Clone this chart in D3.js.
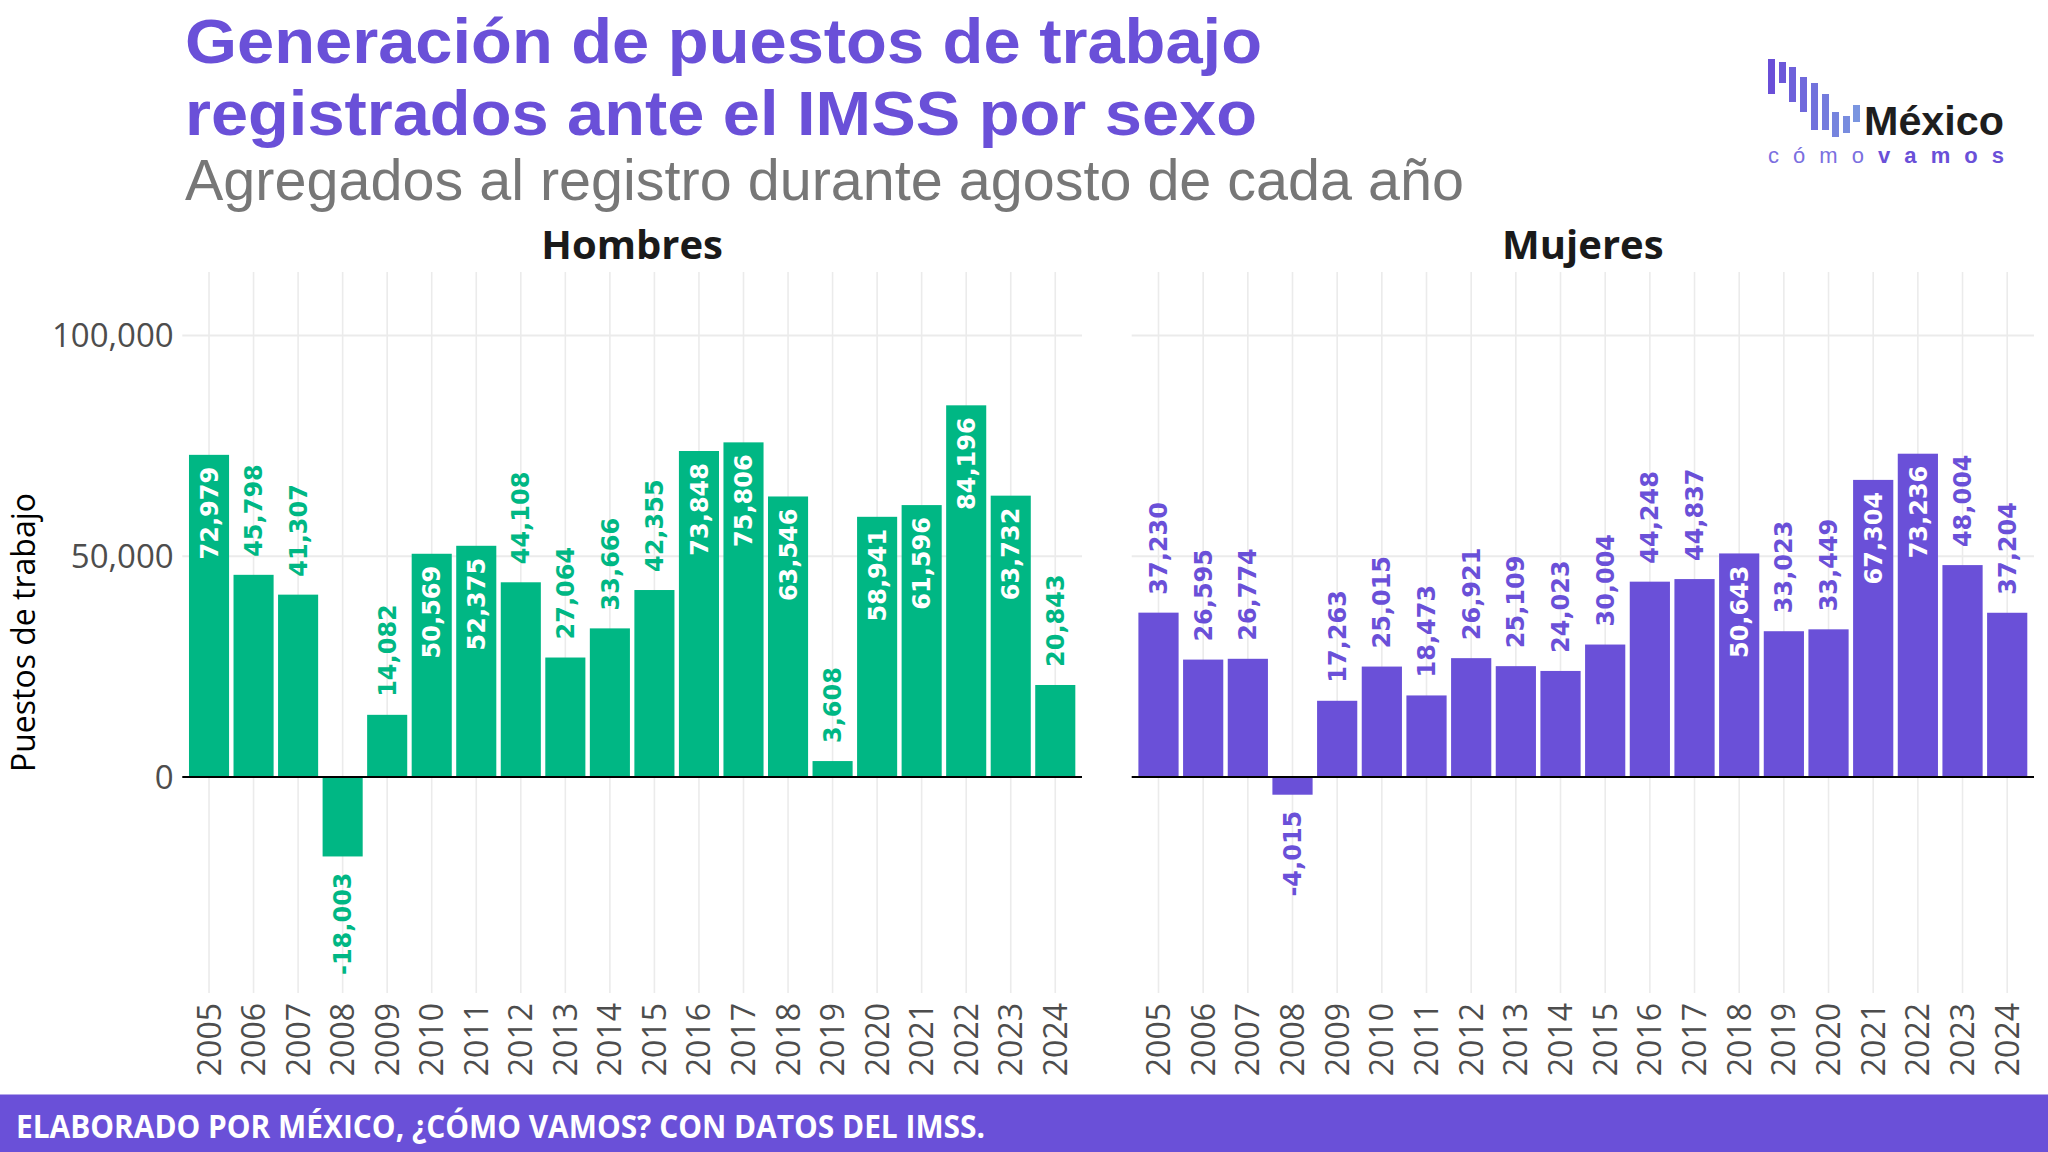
<!DOCTYPE html>
<html>
<head>
<meta charset="utf-8">
<script src="https://cdn.jsdelivr.net/npm/d3@7"></script>
<style>
  html, body { margin: 0; padding: 0; background: #ffffff; }
  svg { display: block; }
</style>
</head>
<body>
<svg id="chart" width="2048" height="1152"></svg>
<script>
// ---------- DATA ----------
const years = ["2005","2006","2007","2008","2009","2010","2011","2012","2013","2014",
               "2015","2016","2017","2018","2019","2020","2021","2022","2023","2024"];
const hombres = [72979, 45798, 41307, -18003, 14082, 50569, 52375, 44108, 27064, 33666,
                 42355, 73848, 75806, 63546, 3608, 58941, 61596, 84196, 63732, 20843];
const mujeres = [37230, 26595, 26774, -4015, 17263, 25015, 18473, 26921, 25109, 24023,
                 30004, 44248, 44837, 50643, 33023, 33449, 67304, 73236, 48004, 37204];
const yTicks = [0, 50000, 100000];
const panelNames = ["Hombres", "Mujeres"];

// ---------- STYLE ----------
const GREEN = "#00B784";
const PURPLE = "#6A50D8";
const GRID = "#EBEBEB";
const TICK = "#4D4D4D";
const TITLE_FONT = "'Liberation Sans', Arial, sans-serif";

const svg = d3.select("#chart");
const fmt = v => d3.format(",")(v).replace("\u2212", "-");

const yTop = 272, yBottom = 993;
const y = d3.scaleLinear().domain([-48935, 114400]).range([yBottom, yTop]);

const panels = [
  { name: panelNames[0], values: hombres, color: GREEN, x0: 182.3, x1: 1082 },
  { name: panelNames[1], values: mujeres, color: PURPLE, x0: 1131.7, x1: 2034 }
];

// ---------- TITLES ----------
svg.append("text").attr("x", 185).attr("y", 63)
  .attr("font-family", TITLE_FONT).attr("font-weight", 700)
  .attr("font-size", 63.5).attr("fill", PURPLE)
  .attr("textLength", 1077).attr("lengthAdjust", "spacingAndGlyphs")
  .text("Generación de puestos de trabajo");
svg.append("text").attr("x", 185).attr("y", 134.5)
  .attr("font-family", TITLE_FONT).attr("font-weight", 700)
  .attr("font-size", 63.5).attr("fill", PURPLE)
  .attr("textLength", 1072).attr("lengthAdjust", "spacingAndGlyphs")
  .text("registrados ante el IMSS por sexo");
svg.append("text").attr("x", 185).attr("y", 200)
  .attr("font-family", TITLE_FONT).attr("font-weight", 400)
  .attr("font-size", 56.5).attr("fill", "#777777")
  .attr("textLength", 1279).attr("lengthAdjust", "spacingAndGlyphs")
  .text("Agregados al registro durante agosto de cada año");

// ---------- LOGO ----------
const logoBars = [
  [1768, 59, 94], [1779, 62, 83], [1789, 67, 102], [1800, 77, 112], [1811, 83, 130],
  [1822, 94, 130], [1832, 112, 137], [1843, 116, 133], [1853, 105, 122]
];
const logoColor = d3.interpolateRgb("#6A4FD8", "#7A95E0");
const logo = svg.append("g");
logo.selectAll("rect").data(logoBars).join("rect")
  .attr("x", d => d[0]).attr("y", d => d[1])
  .attr("width", 7).attr("height", d => d[2] - d[1])
  .attr("fill", (d, i) => logoColor(i / (logoBars.length - 1)));
logo.append("text").attr("x", 1864).attr("y", 134.5)
  .attr("font-family", TITLE_FONT).attr("font-weight", 700)
  .attr("font-size", 40).attr("fill", "#1E1E1E")
  .attr("textLength", 140).attr("lengthAdjust", "spacingAndGlyphs")
  .text("México");
const lt = logo.append("text").attr("x", 1768).attr("y", 163)
  .attr("font-family", TITLE_FONT).attr("font-size", 22)
  .attr("textLength", 236).attr("lengthAdjust", "spacing");
lt.append("tspan").attr("fill", "#7B6FE0").attr("font-weight", 400).text("cómo");
lt.append("tspan").attr("fill", PURPLE).attr("font-weight", 700).text("vamos");

// ---------- Y AXIS TITLE ----------
svg.append("text")
  .attr("transform", `translate(35, ${(yTop + yBottom) / 2}) rotate(-90)`)
  .attr("text-anchor", "middle")
  .attr("font-family", "'Open Sans', sans-serif").attr("font-size", 32)
  .attr("fill", "#000000")
  .text("Puestos de trabajo");

// ---------- Y TICK LABELS ----------
svg.append("g").selectAll("text").data(yTicks).join("text")
  .attr("x", 173.7).attr("y", d => y(d)).attr("dy", "0.36em")
  .attr("text-anchor", "end")
  .attr("font-family", "'Open Sans', sans-serif").attr("font-size", 33)
  .attr("fill", TICK)
  .text(d => fmt(d));

// ---------- PANELS ----------
panels.forEach(p => {
  const x = d3.scaleBand().domain(years).range([p.x0, p.x1])
    .paddingInner(0.1).paddingOuter(0.15);
  const g = svg.append("g");

  // grid
  g.selectAll("line.v").data(years).join("line").attr("class", "v")
    .attr("x1", d => x(d) + x.bandwidth() / 2).attr("x2", d => x(d) + x.bandwidth() / 2)
    .attr("y1", yTop).attr("y2", yBottom)
    .attr("stroke", GRID).attr("stroke-width", 1.6);
  g.selectAll("line.h").data(yTicks).join("line").attr("class", "h")
    .attr("x1", p.x0).attr("x2", p.x1)
    .attr("y1", d => y(d)).attr("y2", d => y(d))
    .attr("stroke", GRID).attr("stroke-width", 2);

  const data = years.map((yr, i) => ({ yr, v: p.values[i] }));

  // bars
  g.selectAll("rect").data(data).join("rect")
    .attr("x", d => x(d.yr)).attr("width", x.bandwidth())
    .attr("y", d => y(Math.max(0, d.v)))
    .attr("height", d => Math.abs(y(d.v) - y(0)))
    .attr("fill", p.color);

  // zero line
  g.append("line").attr("x1", p.x0).attr("x2", p.x1)
    .attr("y1", y(0)).attr("y2", y(0))
    .attr("stroke", "#000000").attr("stroke-width", 2);

  // value labels
  g.selectAll("text.val").data(data).join("text").attr("class", "val")
    .attr("transform", d => {
      let yy;
      if (d.v >= 50000) yy = y(d.v) + 12;
      else if (d.v >= 0) yy = y(d.v) - 18;
      else yy = y(d.v) + 16;
      return `translate(${x(d.yr) + x.bandwidth() / 2}, ${yy}) rotate(-90)`;
    })
    .attr("dy", "0.36em")
    .attr("text-anchor", d => (d.v >= 0 && d.v < 50000) ? "start" : "end")
    .attr("font-family", "'DejaVu Sans', sans-serif").attr("font-weight", 700)
    .attr("font-size", 24)
    .attr("fill", d => d.v >= 50000 ? "#FFFFFF" : p.color)
    .text(d => fmt(d.v));

  // x tick labels
  g.selectAll("text.xt").data(years).join("text").attr("class", "xt")
    .attr("transform", d => `translate(${x(d) + x.bandwidth() / 2}, 1003) rotate(-90)`)
    .attr("dy", "0.36em")
    .attr("text-anchor", "end")
    .attr("font-family", "'Open Sans', sans-serif").attr("font-size", 32)
    .attr("fill", TICK)
    .text(d => d);

  // panel title
  g.append("text").attr("x", (p.x0 + p.x1) / 2).attr("y", 258.5)
    .attr("text-anchor", "middle")
    .attr("font-family", "'Open Sans', sans-serif").attr("font-weight", 700)
    .attr("font-size", 40).attr("fill", "#1A1A1A")
    .text(p.name);
});

// ---------- FOOTER ----------
svg.append("rect").attr("x", 0).attr("y", 1094.5).attr("width", 2048).attr("height", 57.5)
  .attr("fill", PURPLE);
svg.append("text").attr("x", 16).attr("y", 1137.5)
  .attr("font-family", "'Open Sans', sans-serif").attr("font-weight", 700)
  .attr("font-size", 32).attr("fill", "#FFFFFF")
  .attr("textLength", 969).attr("lengthAdjust", "spacingAndGlyphs")
  .text("ELABORADO POR MÉXICO, ¿CÓMO VAMOS? CON DATOS DEL IMSS.");
</script>
</body>
</html>
